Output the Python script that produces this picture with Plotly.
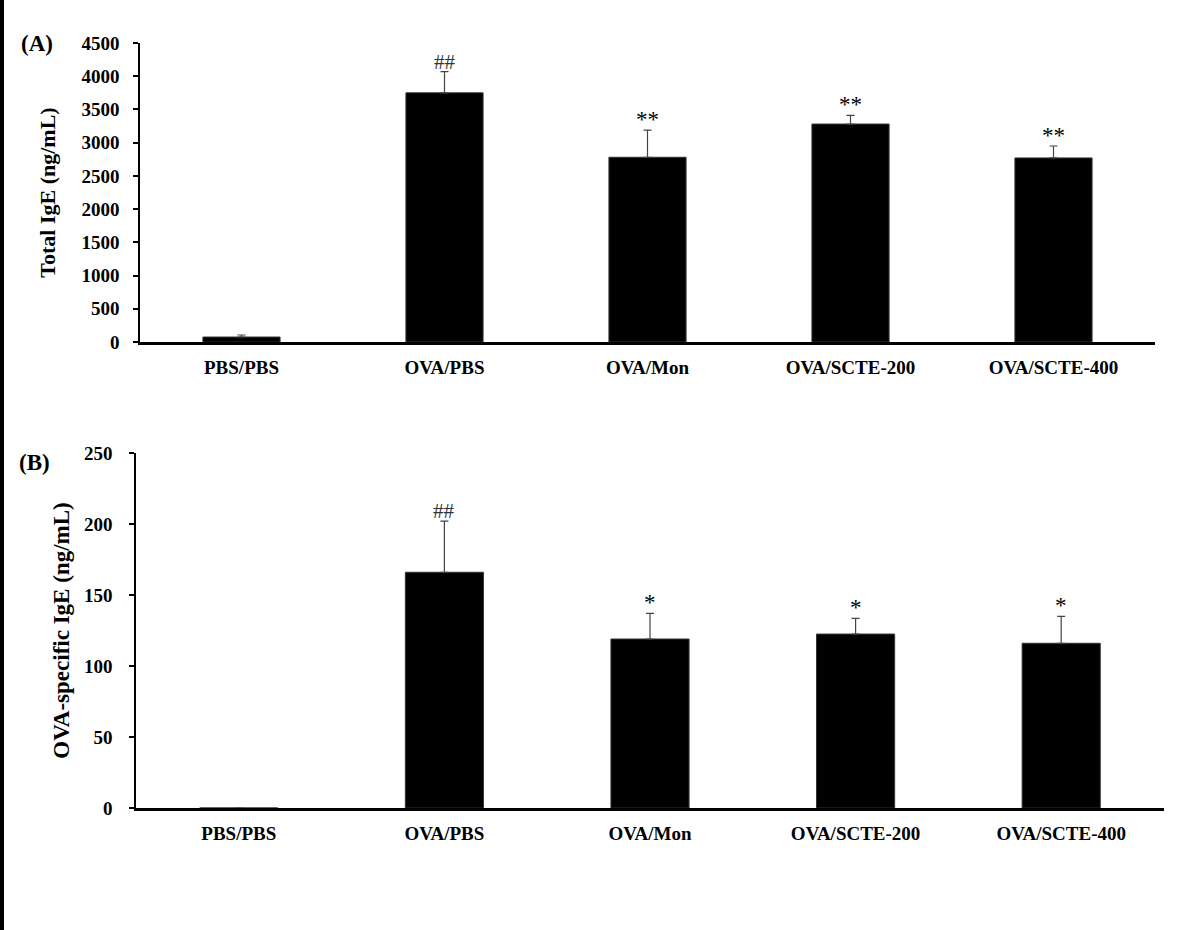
import plotly.graph_objects as go

categories = ["PBS/PBS", "OVA/PBS", "OVA/Mon", "OVA/SCTE-200", "OVA/SCTE-400"]

total_ige = [75, 3750, 2780, 3280, 2770]
total_ige_err = [30, 320, 410, 130, 180]
total_ige_marks = ["", "##", "**", "**", "**"]

ova_ige = [0, 166, 119, 122.5, 116]
ova_ige_err = [0, 36, 18, 11, 19]
ova_ige_marks = ["", "##", "*", "*", "*"]

y1_ticks = [0, 500, 1000, 1500, 2000, 2500, 3000, 3500, 4000, 4500]
y2_ticks = [0, 50, 100, 150, 200, 250]

W, H = 1200, 930
FONT = "Liberation Serif"

fig = go.Figure()

err_style = dict(type="data", symmetric=False, color="#444", thickness=1.2, width=4)

fig.add_trace(go.Bar(
    x=categories, y=total_ige, xaxis="x", yaxis="y",
    marker=dict(color="black", line=dict(color="#333", width=1)),
    width=0.38,
    error_y=dict(array=total_ige_err, arrayminus=[0] * len(categories), **err_style),
    showlegend=False,
))
fig.add_trace(go.Bar(
    x=categories, y=ova_ige, xaxis="x2", yaxis="y2",
    marker=dict(color="black", line=dict(color="#333", width=1)),
    width=0.38,
    error_y=dict(array=ova_ige_err, arrayminus=[0] * len(categories), **err_style),
    showlegend=False,
))

def px_x(p):
    return p / W

def px_y(p):
    return 1 - p / H

axis_common = dict(showgrid=False, zeroline=False, linecolor="black", showline=True,
                   automargin=False)
tick_font = dict(family=FONT, size=19, color="black", weight="bold")
title_font = dict(family=FONT, size=22, color="black", weight="bold")

fig.update_layout(
    template="none",
    width=W, height=H,
    margin=dict(l=0, r=0, t=0, b=0, pad=0),
    paper_bgcolor="white", plot_bgcolor="white",
    font=dict(family=FONT, color="black"),
    xaxis=dict(domain=[px_x(140), px_x(1155)], anchor="y", linewidth=2.5,
               ticks="", tickfont=tick_font, ticklabelstandoff=6, **axis_common),
    yaxis=dict(domain=[px_y(342), px_y(43)], anchor="x", range=[0, 4500],
               tickvals=y1_ticks, ticktext=[str(v) for v in y1_ticks],
               ticks="outside", ticklen=5, tickwidth=1.5, tickcolor="black", linewidth=1.5,
               tickfont=tick_font, ticklabelstandoff=10,
               title=dict(text="Total IgE (ng/mL)", standoff=20, font=title_font),
               **axis_common),
    xaxis2=dict(domain=[px_x(136), px_x(1164)], anchor="y2", linewidth=2.5,
                ticks="", tickfont=tick_font, ticklabelstandoff=6, **axis_common),
    yaxis2=dict(domain=[px_y(808), px_y(453)], anchor="x2", range=[0, 250],
                tickvals=y2_ticks, ticktext=[str(v) for v in y2_ticks],
                ticks="outside", ticklen=5, tickwidth=1.5, tickcolor="black", linewidth=1.5,
                tickfont=tick_font, ticklabelstandoff=13,
                title=dict(text="OVA-specific IgE (ng/mL)", standoff=8,
                           font=dict(family=FONT, size=23, color="black", weight="bold")),
                **axis_common),
)

annotations = []
def mark_font(m):
    if m == "##":
        return dict(family=FONT, size=21, color="#333")
    return dict(family=FONT, size=23, color="black")

for c, v, e, m in zip(categories, total_ige, total_ige_err, total_ige_marks):
    if m:
        annotations.append(dict(x=c, y=v + e, xref="x", yref="y", text=m, showarrow=False,
                                yanchor="bottom", yshift=-4, font=mark_font(m)))
for c, v, e, m in zip(categories, ova_ige, ova_ige_err, ova_ige_marks):
    if m:
        annotations.append(dict(x=c, y=v + e, xref="x2", yref="y2", text=m, showarrow=False,
                                yanchor="bottom", yshift=-4, font=mark_font(m)))
annotations.append(dict(x=px_x(19), y=px_y(43), xref="paper", yref="paper", text="<b>(A)</b>",
                        showarrow=False, xanchor="left", yanchor="middle",
                        font=dict(family=FONT, size=23, color="black")))
annotations.append(dict(x=px_x(17), y=px_y(462), xref="paper", yref="paper", text="<b>(B)</b>",
                        showarrow=False, xanchor="left", yanchor="middle",
                        font=dict(family=FONT, size=23, color="black")))
fig.update_layout(annotations=annotations)

fig.add_shape(type="rect", xref="paper", yref="paper", x0=0, x1=px_x(4), y0=0, y1=1,
              fillcolor="black", line=dict(width=0))

fig.write_html("out.html", config={"displayModeBar": False},
               post_script="document.body.style.margin='0px';document.body.style.overflow='hidden';")
